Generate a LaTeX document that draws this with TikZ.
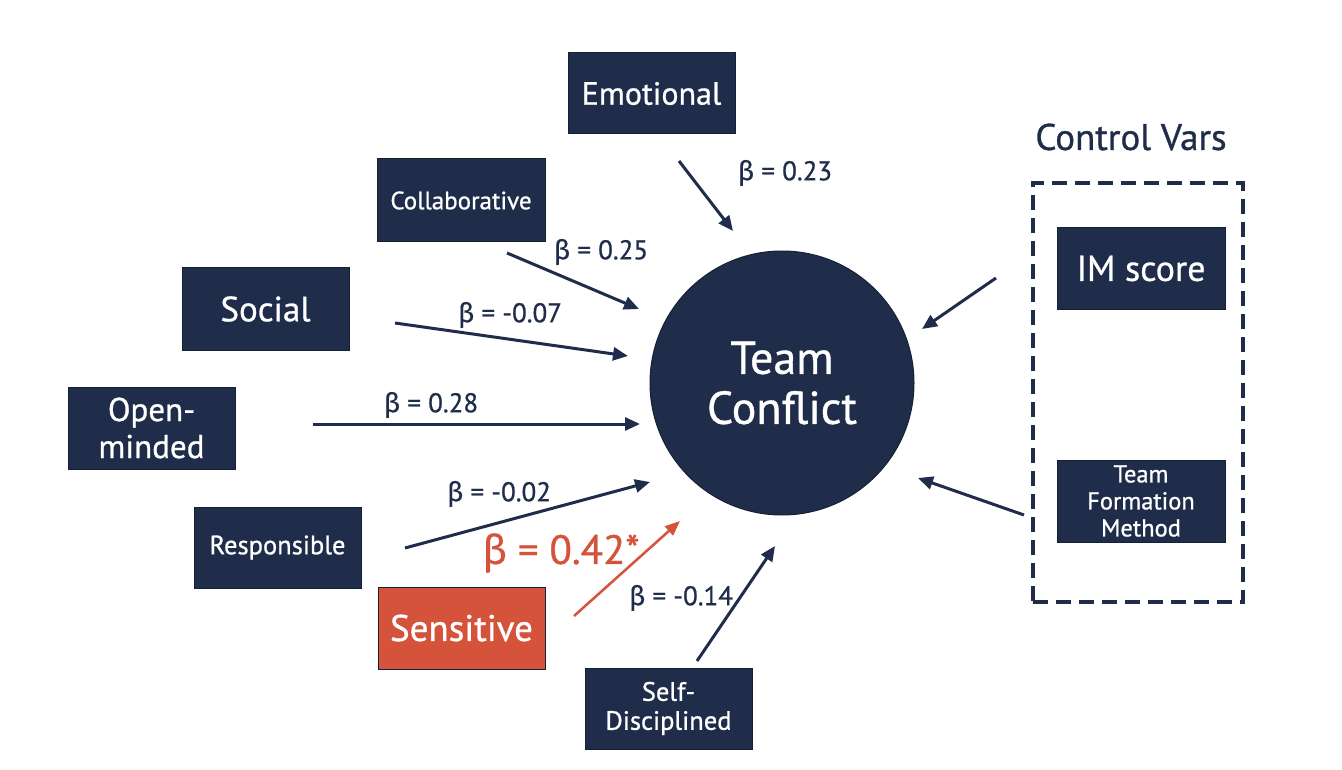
\documentclass[tikz,border=0pt]{standalone}
\usepackage{fontspec}
\setmainfont{PT Sans}[FakeBold=0.8]
\newfontfamily\grk{Fira Sans}[FakeBold=0.5]
\usetikzlibrary{arrows.meta}
\definecolor{navy}{RGB}{32,45,74}
\definecolor{rust}{RGB}{212,83,58}
\newcommand{\bt}{{\grk β}}
\tikzset{
  box/.style={rectangle, fill=navy, draw=navy!70!black, line width=1pt, text=white, align=center, inner sep=0pt},
  conn/.style={navy, line width=3pt, -{Triangle[length=15pt,width=13pt]}},
  redconn/.style={rust, line width=2.5pt, -{Triangle[length=15pt,width=12pt]}},
  betalab/.style={text=navy, font=\fontsize{27}{31}\selectfont},
}
\begin{document}
\begin{tikzpicture}[x=1pt,y=-1pt]
\useasboundingbox[fill=white] (0,0) rectangle (1342,770);

% circle
\node[circle, fill=navy, draw=navy!70!black, line width=1pt, minimum size=264pt, inner sep=0pt, text=white, align=center, font=\fontsize{46}{50}\selectfont] (tc) at (782,383) {Team\\Conflict};

% trait boxes
\node[box, minimum width=167pt, minimum height=81pt, font=\fontsize{32}{36}\selectfont] (emo) at (651.5,93.5) {Emotional};
\node[box, minimum width=168pt, minimum height=83pt, font=\fontsize{25}{29}\selectfont] (col) at (461,200.5) {Collaborative};
\node[box, minimum width=167pt, minimum height=82pt, font=\fontsize{35}{40}\selectfont] (soc) at (265.5,309) {Social};
\node[box, minimum width=167pt, minimum height=82pt, font=\fontsize{33}{37}\selectfont] (opm) at (151.5,428) {Open-\\minded};
\node[box, minimum width=167pt, minimum height=81pt, font=\fontsize{26.5}{30}\selectfont] (res) at (277.5,547.5) {Responsible};
\node[box, fill=rust, minimum width=167pt, minimum height=82pt, font=\fontsize{37}{42}\selectfont] (sen) at (461.5,628) {Sensitive};
\node[box, minimum width=167pt, minimum height=81pt, font=\fontsize{26.5}{29}\selectfont] (sdi) at (668.5,708.5) {Self-\\Disciplined};

% control vars
\node[text=navy, font=\fontsize{37}{42}\selectfont] (cvt) at (1131,137) {Control Vars};
\node[draw=navy, line width=4pt, dash pattern=on 15pt off 8pt, minimum width=210pt, minimum height=419pt, inner sep=0pt] (cvb) at (1138,392.5) {};
\node[box, minimum width=168pt, minimum height=81pt, font=\fontsize{36}{40}\selectfont] (ims) at (1141,268.5) {IM score};
\node[box, minimum width=168pt, minimum height=82pt, font=\fontsize{24.5}{27}\selectfont] (tfm) at (1141,501) {Team\\Formation\\Method};

% connector end points
\coordinate (emoA) at (679,161);  \coordinate (emoB) at (733,231);
\coordinate (colA) at (507,253);  \coordinate (colB) at (639,309);
\coordinate (socA) at (395,323);  \coordinate (socB) at (628,356);
\coordinate (opmA) at (313,424);  \coordinate (opmB) at (640,424);
\coordinate (resA) at (405,548);  \coordinate (resB) at (650,482);
\coordinate (senA) at (574,616);  \coordinate (senB) at (680,521);
\coordinate (sdiA) at (697,661);  \coordinate (sdiB) at (775,546);
\coordinate (imsA) at (996,278);  \coordinate (imsB) at (922,329);
\coordinate (tfmA) at (1024,515); \coordinate (tfmB) at (918,478);

\draw[conn] (emoA) -- (emoB);
\draw[conn] (colA) -- (colB);
\draw[conn] (socA) -- (socB);
\draw[conn] (opmA) -- (opmB);
\draw[conn] (resA) -- (resB);
\draw[redconn] (senA) -- (senB);
\draw[conn] (sdiA) -- (sdiB);
\draw[conn] (imsA) -- (imsB);
\draw[conn] (tfmA) -- (tfmB);

% labels
\node[betalab] (l1) at (785,173) {\bt{} = 0.23};
\node[betalab] (l2) at (601,252) {\bt{} = 0.25};
\node[betalab] (l3) at (510,315) {\bt{} = -0.07};
\node[betalab] (l4) at (431,405) {\bt{} = 0.28};
\node[betalab] (l5) at (499,494) {\bt{} = -0.02};
\node[text=rust, font=\fontsize{41}{46}\selectfont] (l6) at (561,553) {\bt{} = 0.42*};
\node[betalab] (l7) at (681,598) {\bt{} = -0.14};
\end{tikzpicture}
\end{document}
